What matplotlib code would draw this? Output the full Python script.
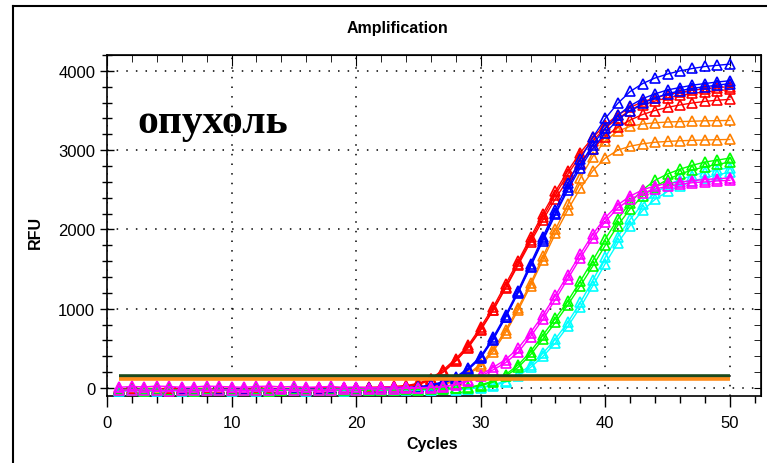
import numpy as np
import matplotlib
matplotlib.use("Agg")
import matplotlib.pyplot as plt
from matplotlib.lines import Line2D
from matplotlib.ticker import MultipleLocator

plt.rcParams['font.family'] = ['Liberation Sans', 'DejaVu Sans']

cycles = np.arange(1, 51)

# RFU readings per well, cycles 1..50
red = [
    [-20, -15, -25, -10, -15, -20, -10, -5, -15, -10, -20, -15, -10, -5, -10, -15, -5, 0, -5, 0, 5, 10, 15, 30,
     60, 120, 230, 370, 540, 770, 1020, 1310, 1600, 1900, 2200, 2480, 2740, 2970, 3160, 3320, 3440, 3540, 3610,
     3660, 3700, 3730, 3755, 3775, 3790, 3800],
    [-30, -25, -20, -30, -25, -15, -20, -25, -15, -20, -10, -20, -15, -25, -15, -10, -15, -10, -5, -5, 0, 5, 10, 25,
     50, 110, 210, 350, 520, 740, 990, 1270, 1570, 1870, 2160, 2440, 2700, 2930, 3120, 3280, 3400, 3500, 3570,
     3620, 3660, 3690, 3715, 3735, 3750, 3765],
    [-10, -5, -15, -10, 0, -5, -10, -15, -5, 0, -10, -5, 0, -10, -5, 0, 5, -5, 0, 5, 10, 10, 20, 25,
     45, 100, 200, 340, 510, 730, 980, 1260, 1550, 1840, 2120, 2390, 2630, 2840, 3020, 3170, 3290, 3380, 3450,
     3500, 3540, 3570, 3595, 3615, 3630, 3640],
]
blue = [
    [-25, -30, -20, -25, -30, -20, -15, -25, -20, -30, -25, -20, -15, -20, -25, -15, -20, -10, -15, -10, -5, -10, 0, 5, 15,
     40, 80, 140, 250, 400, 640, 920, 1230, 1570, 1910, 2250, 2580, 2890, 3160, 3400, 3590, 3740, 3840, 3910,
     3960, 4000, 4030, 4055, 4070, 4085],
    [-35, -30, -25, -35, -30, -25, -30, -20, -25, -30, -20, -25, -30, -20, -15, -25, -20, -15, -20, -10, -15, -5, -5, 5, 10,
     35, 70, 130, 240, 390, 620, 900, 1210, 1540, 1880, 2210, 2530, 2820, 3070, 3280, 3440, 3560, 3650, 3710,
     3760, 3790, 3820, 3840, 3860, 3875],
    [-15, -20, -10, -15, -25, -15, -10, -20, -15, -10, -15, -20, -10, -15, -5, -10, -15, -5, -10, 0, -5, 0, 5, 5, 10,
     30, 65, 120, 230, 380, 610, 890, 1200, 1530, 1860, 2190, 2500, 2780, 3020, 3220, 3380, 3500, 3590, 3660,
     3710, 3750, 3780, 3800, 3820, 3840],
]
orange = [
    [-20, -10, -15, -20, -10, -5, -15, -10, -20, -5, -10, -15, -5, -10, -15, -5, 0, -10, -5, 0, -5, 0, 5, 5, 10,
     20, 50, 100, 180, 300, 490, 730, 1010, 1320, 1660, 2000, 2320, 2650, 2920, 3120, 3240, 3300, 3330, 3345,
     3355, 3360, 3365, 3370, 3372, 3375],
    [-5, -10, 0, -5, -15, -10, 0, -5, -10, -15, -5, 0, -10, -5, 0, -10, -5, 0, 5, -5, 0, 5, 0, 5, 10,
     15, 45, 90, 170, 280, 460, 700, 980, 1290, 1620, 1950, 2250, 2520, 2740, 2900, 3000, 3050, 3080, 3100,
     3110, 3118, 3124, 3128, 3132, 3135],
]
green = [
    [-30, -25, -35, -30, -25, -30, -35, -25, -30, -20, -25, -30, -35, -25, -20, -30, -25, -30, -20, -25, -30, -20,
     -25, -15, -20, -10, -15, -5, 10, 40, 90, 170, 290, 460, 670, 880, 1100, 1350, 1610, 1880, 2130, 2340, 2500,
     2620, 2700, 2760, 2810, 2850, 2875, 2900],
    [-15, -20, -10, -15, -25, -20, -15, -10, -20, -15, -25, -10, -15, -20, -10, -15, -20, -10, -15, -5, -10, -15,
     -5, -10, 0, -5, 0, 0, 5, 30, 75, 150, 260, 420, 620, 830, 1050, 1290, 1540, 1800, 2050, 2260, 2420,
     2540, 2630, 2700, 2750, 2790, 2820, 2850],
]
cyan = [
    [-35, -30, -40, -35, -30, -40, -35, -30, -25, -35, -30, -40, -35, -25, -30, -35, -30, -25, -35, -30, -25, -30,
     -20, -25, -30, -20, -15, -20, -10, 10, 40, 90, 170, 290, 440, 620, 830, 1080, 1360, 1650, 1910, 2130, 2320,
     2460, 2560, 2630, 2680, 2720, 2750, 2780],
    [-20, -25, -15, -20, -30, -25, -20, -15, -25, -20, -30, -15, -20, -25, -15, -20, -25, -20, -15, -25, -20, -15,
     -20, -10, -15, -20, -10, -5, -10, 5, 30, 75, 150, 260, 400, 570, 780, 1020, 1290, 1570, 1830, 2050, 2240,
     2380, 2480, 2550, 2610, 2650, 2690, 2720],
]
magenta = [
    [10, 20, 15, 25, 20, 10, 15, 25, 20, 15, 10, 20, 25, 15, 20, 10, 15, 20, 10, 15, 5, 10, 15, 10, 5, 10,
     20, 50, 100, 170, 260, 360, 500, 700, 920, 1170, 1430, 1690, 1940, 2150, 2310, 2420, 2500, 2550, 2580,
     2600, 2615, 2630, 2640, 2650],
    [-30, -20, -25, -30, -35, -25, -20, -30, -25, -20, -30, -25, -20, -15, -25, -20, -30, -20, -15, -20, -10, -15,
     -10, -5, 0, 5, 15, 40, 85, 150, 230, 320, 450, 650, 870, 1120, 1380, 1640, 1890, 2100, 2270, 2380, 2460,
     2510, 2545, 2570, 2590, 2600, 2612, 2620],
]

thresholds = [148, 110]
threshold_colors = ['#1c4a1c', '#ff8c1a']

groups = [
    (orange, '#ff8000'),
    (red, '#ff0000'),
    (blue, '#0000ff'),
    (cyan, '#00ffff'),
    (green, '#00ff00'),
    (magenta, '#ff00ff'),
]

fig = plt.figure(figsize=(7.67, 4.64), dpi=100)
ax = fig.add_axes([107 / 767, 1 - 397 / 464, (761 - 107) / 767, (397 - 56) / 464])

for wells, col in groups:
    for rfu in wells:
        ax.plot(cycles, rfu, color=col, lw=1.0, marker='^', ms=7,
                mfc='none', mec=col, mew=1.2, zorder=3)

for thr, col in zip(thresholds, threshold_colors):
    ax.plot([cycles[0], cycles[-1]], [thr, thr], color=col, lw=2.6, zorder=4, solid_capstyle='butt')

ax.set_xlim(0, 52.5)
ax.set_ylim(-100, 4200)
ax.xaxis.set_major_locator(MultipleLocator(10))
ax.xaxis.set_minor_locator(MultipleLocator(2))
ax.yaxis.set_major_locator(MultipleLocator(1000))
ax.yaxis.set_minor_locator(MultipleLocator(200))
ax.grid(True, which='major', color='black', lw=1.1, linestyle=(0, (1, 5.3)))
ax.set_axisbelow(True)

ax.tick_params(axis='x', which='major', direction='out', length=8, width=1, labelsize=12, pad=6)
ax.tick_params(axis='x', which='minor', direction='out', length=5, width=1)
ax.tick_params(axis='y', which='major', direction='inout', length=10, width=1, labelsize=12)
ax.tick_params(axis='y', which='minor', direction='inout', length=7, width=1)

top = ax.secondary_xaxis('top')
top.xaxis.set_major_locator(MultipleLocator(10))
top.xaxis.set_minor_locator(MultipleLocator(2))
top.tick_params(which='major', direction='in', length=8, labeltop=False)
top.tick_params(which='minor', direction='in', length=5)
right = ax.secondary_yaxis('right')
right.yaxis.set_major_locator(MultipleLocator(1000))
right.yaxis.set_minor_locator(MultipleLocator(200))
right.tick_params(which='both', direction='in', length=5, labelright=False)

for sp in ax.spines.values():
    sp.set_linewidth(1.2)

fig.text(397 / 767, 1 - 28 / 464, 'Amplification', ha='center', va='center',
         fontsize=11.5, fontweight='bold')
fig.text(432 / 767, 1 - 445 / 464, 'Cycles', ha='center', va='center',
         fontsize=11.5, fontweight='bold')
fig.text(35 / 767, 1 - 232 / 464, 'RFU', ha='center', va='center', rotation=90,
         fontsize=11.5, fontweight='bold')
fig.text(137 / 767, 1 - 133 / 464, 'опухоль', ha='left', va='baseline',
         fontsize=30, fontweight='bold', family=['Liberation Serif', 'DejaVu Serif'])

# outer frame of the screenshot
fig.add_artist(Line2D([13 / 767, 13 / 767], [0, 1 - 7 / 464], color='black', lw=1.5))
fig.add_artist(Line2D([13 / 767, 1], [1 - 7 / 464, 1 - 7 / 464], color='black', lw=1.5))

fig.savefig('out.png', dpi=100)
